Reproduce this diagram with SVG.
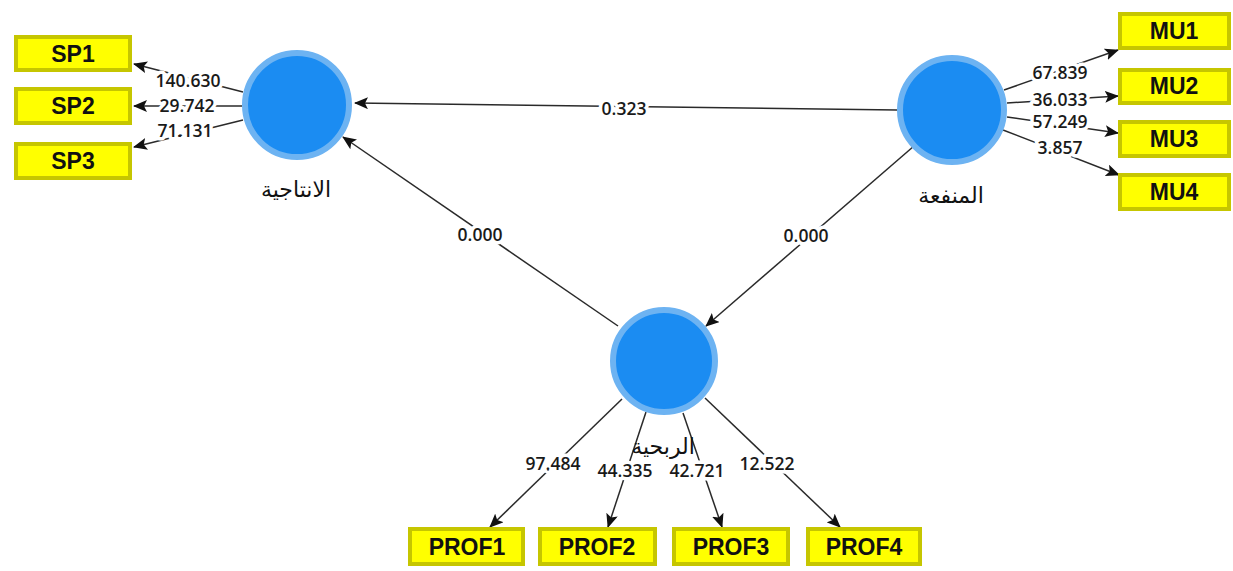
<svg xmlns="http://www.w3.org/2000/svg" width="1233" height="571" viewBox="0 0 1233 571">
<style>
.lv{fill:#1b8cf2;stroke:#6db3f2;stroke-width:6}
.ind{fill:#ffff00;stroke:#c6c600;stroke-width:4}
.it{font-family:"Liberation Sans",Arial,sans-serif;font-weight:bold;font-size:23px;fill:#111;text-anchor:middle;dominant-baseline:central}
.ar{font-family:"DejaVu Sans","Noto Sans",sans-serif;font-size:22px;fill:#111;text-anchor:middle;dominant-baseline:central}
.cn line{stroke:#2a2a2a;stroke-width:1.5;marker-end:url(#ah)}
.num{font-family:"Open Sans","Liberation Sans",sans-serif;font-weight:600;font-size:17.5px;fill:#1a1a1a;text-anchor:middle;dominant-baseline:central;stroke:#fff;stroke-width:7;paint-order:stroke;stroke-linejoin:round}
</style>
<defs>
<marker id="ah" markerUnits="userSpaceOnUse" markerWidth="14" markerHeight="12" refX="13" refY="6" orient="auto">
<path d="M0,0 L14,6 L0,12 L3,6 z" fill="#111"/>
</marker>
</defs>
<rect width="1233" height="571" fill="#fff"/>
<g id="connectors" class="cn">
<line x1="243" y1="92" x2="134" y2="64"/>
<line x1="242" y1="106" x2="134" y2="106"/>
<line x1="243" y1="120" x2="134" y2="147"/>
<line x1="1004" y1="90" x2="1118" y2="50"/>
<line x1="1007" y1="103" x2="1118" y2="96"/>
<line x1="1007" y1="117" x2="1118" y2="133"/>
<line x1="1003" y1="130" x2="1119" y2="175"/>
<line x1="897" y1="110" x2="355" y2="103"/>
<line x1="914" y1="146" x2="706" y2="326"/>
<line x1="618" y1="326" x2="343" y2="137"/>
<line x1="622" y1="399" x2="490" y2="527"/>
<line x1="646" y1="412" x2="608" y2="527"/>
<line x1="683" y1="413" x2="722" y2="527"/>
<line x1="705" y1="398" x2="840" y2="527"/>
</g>
<g id="labels">
<text class="num" x="188" y="80">140.630</text>
<text class="num" x="187" y="105">29.742</text>
<text class="num" x="185" y="130">71.131</text>
<text class="num" x="1060" y="72">67.839</text>
<text class="num" x="1060" y="99">36.033</text>
<text class="num" x="1060" y="121">57.249</text>
<text class="num" x="1060" y="147">3.857</text>
<text class="num" x="624" y="108">0.323</text>
<text class="num" x="480" y="234">0.000</text>
<text class="num" x="806" y="235">0.000</text>
<text class="num" x="553" y="463">97.484</text>
<text class="num" x="625" y="470">44.335</text>
<text class="num" x="697" y="470">42.721</text>
<text class="num" x="767" y="463">12.522</text>
</g>
<g id="node-productivity">
<circle class="lv" cx="297" cy="105" r="52"/>
<text class="ar" x="296" y="189">الانتاجية</text>
</g>
<g id="node-utility">
<circle class="lv" cx="952" cy="110" r="52"/>
<text class="ar" x="951" y="195">المنفعة</text>
</g>
<g id="node-profitability">
<circle class="lv" cx="664" cy="361" r="51"/>
<text class="ar" x="663" y="446">الربحية</text>
</g>
<g id="SP1"><rect class="ind" x="16" y="37" width="114" height="33"/><text class="it" x="73" y="54">SP1</text></g>
<g id="SP2"><rect class="ind" x="16" y="89" width="114" height="34"/><text class="it" x="73" y="106">SP2</text></g>
<g id="SP3"><rect class="ind" x="16" y="144" width="114" height="34"/><text class="it" x="73" y="161">SP3</text></g>
<g id="MU1"><rect class="ind" x="1120" y="14" width="109" height="34"/><text class="it" x="1174" y="31">MU1</text></g>
<g id="MU2"><rect class="ind" x="1120" y="70" width="109" height="33"/><text class="it" x="1174" y="86">MU2</text></g>
<g id="MU3"><rect class="ind" x="1120" y="122" width="109" height="34"/><text class="it" x="1174" y="139">MU3</text></g>
<g id="MU4"><rect class="ind" x="1120" y="175" width="109" height="34"/><text class="it" x="1174" y="192">MU4</text></g>
<g id="PROF1"><rect class="ind" x="410" y="529" width="113" height="35"/><text class="it" x="467" y="547">PROF1</text></g>
<g id="PROF2"><rect class="ind" x="540" y="529" width="115" height="35"/><text class="it" x="597" y="547">PROF2</text></g>
<g id="PROF3"><rect class="ind" x="674" y="529" width="114" height="35"/><text class="it" x="731" y="547">PROF3</text></g>
<g id="PROF4"><rect class="ind" x="808" y="529" width="112" height="35"/><text class="it" x="864" y="547">PROF4</text></g>
</svg>
